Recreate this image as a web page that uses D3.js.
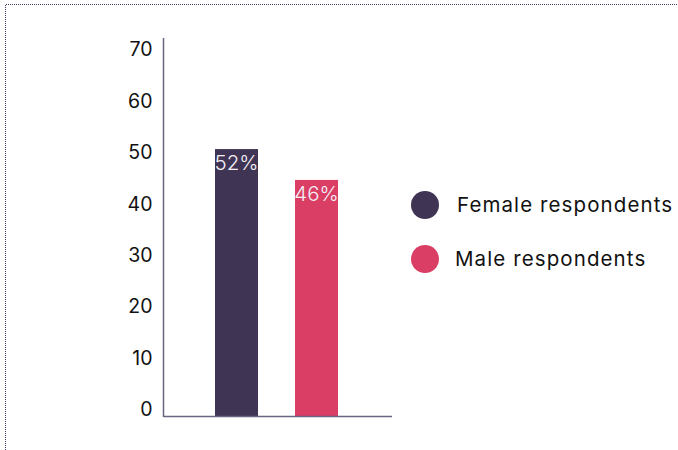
<!DOCTYPE html>
<html>
<head>
<meta charset="utf-8">
<script src="https://cdn.jsdelivr.net/npm/d3@7"></script>
<style>
  html, body { margin: 0; padding: 0; background: #fff; }
  svg { display: block; font-family: "Inter", "Noto Sans", sans-serif; }
</style>
</head>
<body>
<svg id="chart" width="678" height="450"></svg>
<script>
// Share of respondents by gender (percent)
const categories = ["Female respondents", "Male respondents"];
const values = [52, 46];
const colors = ["#3f3454", "#da3e64"];
const yTicks = [0, 10, 20, 30, 40, 50, 60, 70];

const svg = d3.select("#chart");

// dotted frame along the top and left edges
svg.append("path")
  .attr("d", "M5.5,450 L5.5,4.5 L677,4.5")
  .attr("fill", "none")
  .attr("stroke", "#3e3e62")
  .attr("stroke-width", 1)
  .attr("stroke-dasharray", "1,1");

const axisX = 163.5;
const x = d3.scaleBand()
  .domain(categories)
  .range([172, 381])
  .paddingInner(0.4625)
  .paddingOuter(0.5375);

const y = d3.scaleLinear().domain([0, 70]).range([416.5, 56.5]);

// bars
svg.selectAll("rect.bar")
  .data(categories)
  .join("rect")
  .attr("class", "bar")
  .attr("x", d => x(d))
  .attr("width", x.bandwidth())
  .attr("y", (d, i) => y(values[i]))
  .attr("height", (d, i) => y(0) - y(values[i]))
  .attr("fill", (d, i) => colors[i]);

// value labels inside the top of each bar
svg.selectAll("text.val")
  .data(categories)
  .join("text")
  .attr("class", "val")
  .attr("x", d => x(d) + x.bandwidth() / 2)
  .attr("y", (d, i) => y(values[i]) + 21)
  .attr("text-anchor", "middle")
  .attr("fill", "#f4f0f6")
  .attr("font-size", 20.5)
  .attr("font-weight", 300)
  .text((d, i) => values[i] + "%");

// y axis: labels only, plus a plain vertical line
const yAxis = d3.axisLeft(y).tickValues(yTicks).tickSize(0).tickPadding(11);
const gy = svg.append("g").attr("transform", `translate(${axisX},-7)`).call(yAxis);
gy.select(".domain").remove();
gy.selectAll("text")
  .attr("font-size", 19.5)
  .attr("fill", "#111")
  .attr("font-family", "Inter, sans-serif");

svg.append("line")
  .attr("x1", axisX).attr("x2", axisX)
  .attr("y1", 38).attr("y2", 417)
  .attr("stroke", "#6a6480").attr("stroke-width", 1.5);

// baseline
svg.append("line")
  .attr("x1", axisX).attr("x2", 392)
  .attr("y1", 416.5).attr("y2", 416.5)
  .attr("stroke", "#6a6480").attr("stroke-width", 1.5);

// legend
const legend = svg.append("g");
const rows = legend.selectAll("g")
  .data(categories)
  .join("g")
  .attr("transform", (d, i) => `translate(425,${205 + i * 54})`);
rows.append("circle")
  .attr("r", 14)
  .attr("fill", (d, i) => colors[i]);
rows.append("text")
  .attr("x", (d, i) => i === 0 ? 32 : 30)
  .attr("dy", "0.35em")
  .attr("font-size", 20.5)
  .attr("letter-spacing", 1.1)
  .attr("fill", "#111")
  .text(d => d);
</script>
</body>
</html>
